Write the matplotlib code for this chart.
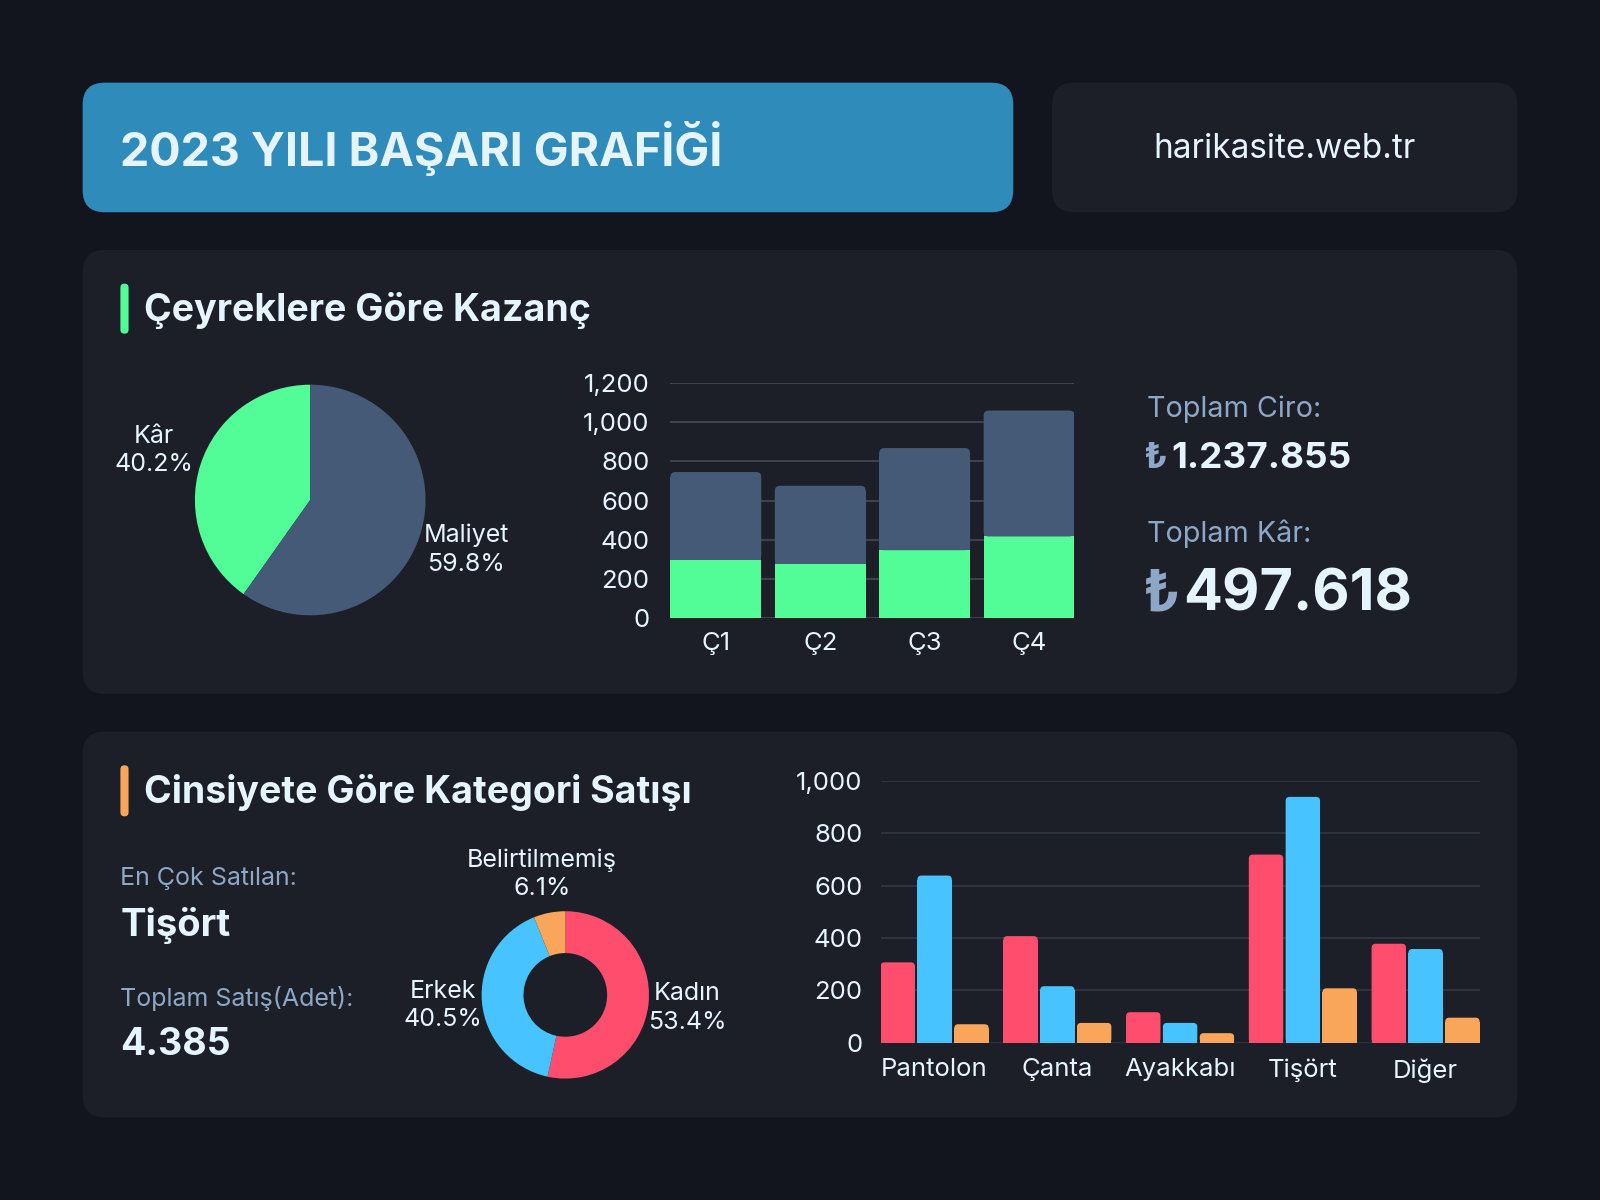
import numpy as np
import matplotlib
matplotlib.use("Agg")
import matplotlib.pyplot as plt
from matplotlib.patches import FancyBboxPatch
from matplotlib.transforms import IdentityTransform

# ---------------------------------------------------------------------------
# data
quarters = ["Ç1", "Ç2", "Ç3", "Ç4"]
q_profit = [298, 279, 347, 417]
q_cost = [447, 396, 520, 641]

pie_labels = ["Kâr", "Maliyet"]
pie_pcts = [40.2, 59.8]

gender_labels = ["Kadın", "Erkek", "Belirtilmemiş"]
gender_pcts = [53.4, 40.5, 6.1]

categories = ["Pantolon", "Çanta", "Ayakkabı", "Tişört", "Diğer"]
sales_women = [307, 407, 117, 718, 378]
sales_men = [638, 216, 76, 938, 358]
sales_other = [71, 76, 37, 208, 96]

title = "2023 YILI BAŞARI GRAFİĞİ"
site = "harikasite.web.tr"
total_revenue = "1.237.855"
total_profit = "497.618"
best_seller = "Tişört"
total_units = "4.385"

# ---------------------------------------------------------------------------
# style
BG = "#12151d"
PANEL = "#1c1f28"
HEAD = "#2e8bba"
WHITE = "#e6f4ff"
MUTED = "#8fa7c6"
GREEN = "#52fd98"
SLATE = "#445a76"
RED = "#ff4d6e"
BLUE = "#47c4ff"
ORANGE = "#f9a65a"
FAM = ["Inter", "DejaVu Sans"]

plt.rcParams["font.family"] = FAM

W, H = 1600, 1200
S = 0.98  # reference layout was measured on a 1568 px wide copy

fig = plt.figure(figsize=(W / 100, H / 100), dpi=100, facecolor=BG)


def px(x, y):
    return x / S, H - y / S


def fx(x, y):
    X, Y = px(x, y)
    return X / W, Y / H


def rbox(x0, y0, x1, y1, color, r=20):
    X0, Y1 = px(x0, y0)
    X1, Y0 = px(x1, y1)
    fig.patches.append(FancyBboxPatch((X0, Y0), X1 - X0, Y1 - Y0,
                                      boxstyle="round,pad=0,rounding_size=%g" % r,
                                      transform=IdentityTransform(),
                                      facecolor=color, edgecolor="none", zorder=-5))


def ftext(x, y, s, **kw):
    X, Y = fx(x, y + 2)
    return fig.text(X, Y, s, **kw)


# boxes
rbox(81, 81, 993, 208, HEAD, 22)
rbox(1031, 81, 1487, 208, PANEL, 22)
rbox(81, 245, 1487, 680, PANEL, 22)
rbox(81, 717, 1487, 1095, PANEL, 22)
rbox(118, 278, 126, 327, GREEN, 4)
rbox(118, 750, 126, 800, ORANGE, 4)

ftext(118, 144, title, fontsize=33.5, fontweight="bold", color=WHITE, va="center")
ftext(1259, 144, site, fontsize=24, color=WHITE, va="center", ha="center")
ftext(141, 302, "Çeyreklere Göre Kazanç", fontsize=27, fontweight="bold",
      color=WHITE, va="center")
ftext(141, 775, "Cinsiyete Göre Kategori Satışı", fontsize=27, fontweight="bold",
      color=WHITE, va="center")

# totals on the right
ftext(1124, 399, "Toplam Ciro:", fontsize=20.7, color=MUTED, va="center")
ftext(1124, 521, "Toplam Kâr:", fontsize=20.7, color=MUTED, va="center")
renderer = fig.canvas.get_renderer()


def money(x, y, value, size):
    t = ftext(x, y, "₺", fontsize=size, fontweight="bold", color=MUTED, va="center")
    bb = t.get_window_extent(renderer)
    fig.text(bb.x1 / W + 0.002, fx(x, y + 2)[1], value, fontsize=size,
             fontweight="bold", color=WHITE, va="center")


money(1121, 447, total_revenue, 26.5)
money(1120, 582, total_profit, 41.5)

# left texts, second panel
ftext(118, 859, "En Çok Satılan:", fontsize=18, color=MUTED, va="center")
ftext(118, 905, best_seller, fontsize=27.5, fontweight="bold", color=WHITE, va="center")
ftext(118, 977, "Toplam Satış(Adet):", fontsize=18, color=MUTED, va="center")
ftext(118, 1022, total_units, fontsize=27, fontweight="bold", color=WHITE, va="center")


# ---------------------------------------------------------------------------
# pies
def pie_axes(cx, cy, r):
    X, Y = px(cx, cy)
    R = r / S
    ax = fig.add_axes([(X - R) / W, (Y - R) / H, 2 * R / W, 2 * R / H])
    ax.set_axis_off()
    return ax


def pie_labels_out(ax, wedges, labels, pcts, dist, size):
    for w, lab, p in zip(wedges, labels, pcts):
        ang = np.deg2rad((w.theta1 + w.theta2) / 2)
        ax.text(dist * np.cos(ang), dist * np.sin(ang), "%s\n%.1f%%" % (lab, p),
                ha="center", va="center", fontsize=size, color=WHITE,
                linespacing=1.3, clip_on=False)


ax_p = pie_axes(304, 490, 113)
wedges, _ = ax_p.pie(pie_pcts, colors=[GREEN, SLATE], startangle=90,
                     counterclock=True, radius=1)
ax_p.set_xlim(-1, 1)
ax_p.set_ylim(-1, 1)
pie_labels_out(ax_p, wedges, pie_labels, pie_pcts, 1.42, 18)

ax_d = pie_axes(554, 975, 82)
wedges, _ = ax_d.pie(gender_pcts, colors=[RED, BLUE, ORANGE], startangle=90,
                     counterclock=False, radius=1,
                     wedgeprops=dict(width=0.5))
ax_d.set_xlim(-1, 1)
ax_d.set_ylim(-1, 1)
pie_labels_out(ax_d, wedges, gender_labels, gender_pcts, 1.47, 18)


# ---------------------------------------------------------------------------
# bar charts
def bar_axes(x0, y0, x1, y1):
    l, t = fx(x0, y0)
    r, b = fx(x1, y1)
    ax = fig.add_axes([l, b, r - l, t - b])
    ax.set_facecolor("none")
    for s in ax.spines.values():
        s.set_visible(False)
    ax.tick_params(length=0, colors=WHITE, labelsize=18.5)
    return ax


def round_tops(ax, bars, rad_px=5):
    bb = ax.get_window_extent(renderer)
    x0, x1 = ax.get_xlim()
    y0, y1 = ax.get_ylim()
    rx = rad_px * (x1 - x0) / bb.width
    ry = rad_px * (y1 - y0) / bb.height
    for b in bars:
        x, y, w, h = b.get_x(), b.get_y(), b.get_width(), b.get_height()
        b.set_height(h - ry)
        ax.add_patch(FancyBboxPatch((x, y), w, h,
                                    boxstyle="round,pad=0,rounding_size=%g" % rx,
                                    mutation_aspect=ry / rx,
                                    facecolor=b.get_facecolor(), edgecolor="none",
                                    zorder=b.get_zorder()))


ax1 = bar_axes(657, 375, 1053, 606)
xq = np.arange(len(quarters))
bw = 0.87
ax1.set_xlim(-bw / 2, len(quarters) - 1 + bw / 2)
ax1.set_ylim(0, 1200)
ax1.set_yticks(range(0, 1201, 200))
ax1.yaxis.set_major_formatter(matplotlib.ticker.StrMethodFormatter("{x:,.0f}"))
ax1.grid(axis="y", color="#454956", linewidth=1.2)
ax1.set_axisbelow(True)
ax1.bar(xq, q_profit, width=bw, color=GREEN, zorder=3)
b_top = ax1.bar(xq, q_cost, width=bw, bottom=q_profit, color=SLATE, zorder=3)
ax1.set_xticks(xq, quarters)
ax1.tick_params(axis="y", pad=15)
ax1.tick_params(axis="x", pad=10)
round_tops(ax1, b_top, 5)

ax2 = bar_axes(863, 765, 1450, 1022)
xc = np.arange(len(categories))
cw = 0.28
off = 0.30
ax2.set_xlim(-0.44, len(categories) - 1 + 0.44)
ax2.set_ylim(0, 1000)
ax2.set_yticks(range(0, 1001, 200))
ax2.yaxis.set_major_formatter(matplotlib.ticker.StrMethodFormatter("{x:,.0f}"))
ax2.grid(axis="y", color="#343845", linewidth=1.2)
ax2.set_axisbelow(True)
for vals, col, dx in [(sales_women, RED, -off), (sales_men, BLUE, 0), (sales_other, ORANGE, off)]:
    bars = ax2.bar(xc + dx, vals, width=cw, color=col, zorder=3)
    round_tops(ax2, bars, 4)
ax2.set_xticks(xc, categories)
ax2.tick_params(axis="y", pad=13)
ax2.tick_params(axis="x", pad=11)

fig.savefig("out.png", dpi=100, facecolor=BG)
